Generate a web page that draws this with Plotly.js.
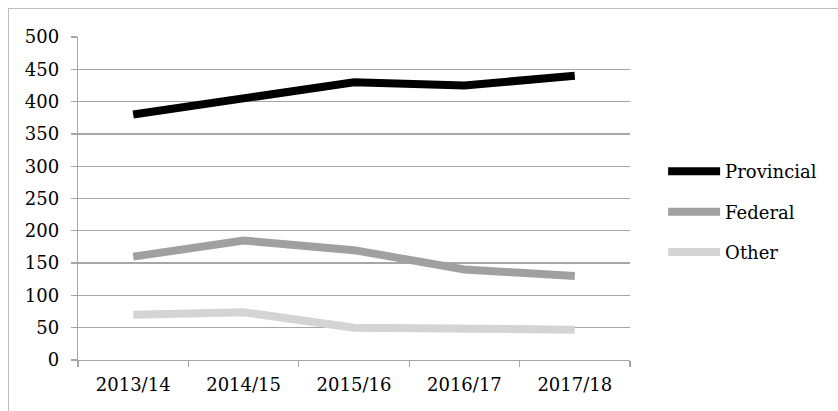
<!DOCTYPE html>
<html>
<head>
<meta charset="utf-8">
<script src="https://cdn.plot.ly/plotly-3.0.1.min.js"></script>
<style>
html,body{margin:0;padding:0;background:#fff;}
#frame{position:absolute;left:8px;top:8px;width:900px;height:450px;border-left:1px solid #bdbdbd;border-top:1px solid #bdbdbd;}
#chart{position:absolute;left:0;top:0;width:838px;height:411px;}
</style>
</head>
<body>
<div id="frame"></div>
<div id="chart"></div>
<script>
const categories = ["2013/14", "2014/15", "2015/16", "2016/17", "2017/18"];
const provincial = [380, 405, 430, 425, 440];
const federal = [160, 185, 170, 140, 130];
const other = [70, 74, 50, 49, 47];
const yTicks = [0, 50, 100, 150, 200, 250, 300, 350, 400, 450, 500];

const font = {family: "DejaVu Serif, serif", size: 18, color: "#000"};

const traces = [
  {x: categories, y: provincial, name: "Provincial", type: "scatter", mode: "lines",
   line: {color: "#000000", width: 8}, legendgroup: "a"},
  {x: categories, y: federal, name: "Federal", type: "scatter", mode: "lines",
   line: {color: "#a0a0a0", width: 8}, legendgroup: "b"},
  {x: categories, y: other, name: "Other", type: "scatter", mode: "lines",
   line: {color: "#d4d4d4", width: 8}, legendgroup: "c"}
];

const layout = {
  width: 838, height: 411,
  margin: {l: 78, r: 208, t: 37, b: 51},
  paper_bgcolor: "rgba(0,0,0,0)",
  plot_bgcolor: "rgba(0,0,0,0)",
  font: font,
  showlegend: true,
  legend: {x: 1.06, xanchor: "left", y: 0.458, yanchor: "middle",
           font: font, tracegroupgap: 14, itemwidth: 52, bgcolor: "rgba(0,0,0,0)"},
  xaxis: {
    type: "category", tickvals: categories, range: [-0.5, 4.5],
    showline: true, linecolor: "#a6a6a6", linewidth: 1.3,
    ticks: "outside", tickson: "boundaries", ticklen: 6, tickcolor: "#a6a6a6", tickwidth: 1.3,
    ticklabelstandoff: 8,
    showgrid: false, zeroline: false, tickfont: font, fixedrange: true
  },
  yaxis: {
    range: [0, 500], tickvals: yTicks,
    showline: true, linecolor: "#a6a6a6", linewidth: 1.3,
    ticks: "outside", ticklen: 6, tickcolor: "#a6a6a6", tickwidth: 1.3,
    ticklabelstandoff: 8,
    showgrid: true, gridcolor: "#a6a6a6", gridwidth: 1.3,
    zeroline: false, tickfont: font, fixedrange: true
  }
};

Plotly.newPlot("chart", traces, layout, {displayModeBar: false, staticPlot: true});
</script>
</body>
</html>
